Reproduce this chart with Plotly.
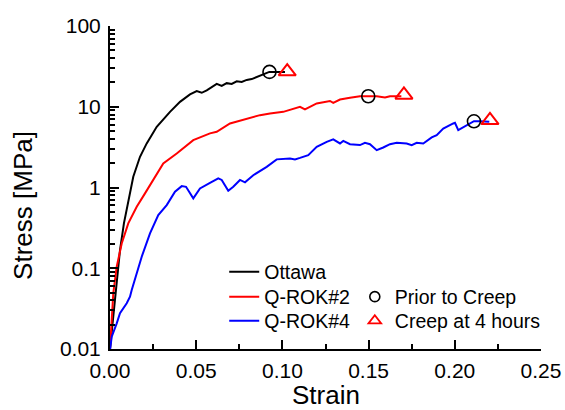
import plotly.graph_objects as go

# ---------------- data ----------------
ottawa_strain = [0.0, 0.0019, 0.0039, 0.0058, 0.0081, 0.0106, 0.0135, 0.0174, 0.0213,
                 0.0271, 0.0348, 0.0406, 0.0464, 0.0503, 0.0532, 0.0561, 0.0590, 0.0619,
                 0.0648, 0.0677, 0.0706, 0.0735, 0.0764, 0.0793, 0.0822, 0.0851, 0.0880,
                 0.0924, 0.0967, 0.1015]
ottawa_stress = [0.01, 0.025, 0.0785, 0.168, 0.362, 0.70, 1.36, 2.40, 3.52,
                 5.64, 8.65, 11.5, 14.2, 15.6, 14.9, 16.0, 17.6, 19.2,
                 18.1, 19.6, 19.2, 20.7, 20.3, 21.5, 22.0, 23.3, 24.6,
                 27.0, 27.0, 27.0]

qrok2_strain = [0.0, 0.0005, 0.0019, 0.0039, 0.0068, 0.0106, 0.0155, 0.0203, 0.0261,
                0.0309, 0.0387, 0.0483, 0.0580, 0.0619, 0.0696, 0.0793, 0.0870, 0.0928,
                0.1005, 0.1102, 0.1131, 0.1199, 0.1276, 0.1295, 0.1334, 0.1392, 0.1450,
                0.1498, 0.1547, 0.1595, 0.1624, 0.1690]
qrok2_stress = [0.01, 0.0142, 0.0489, 0.1045, 0.203, 0.360, 0.577, 0.846, 1.36,
                1.99, 2.64, 3.86, 4.68, 4.89, 6.21, 7.16, 7.87, 8.26,
                8.65, 9.97, 9.26, 11.0, 11.8, 11.2, 12.3, 12.9, 13.5,
                13.5, 13.5, 13.0, 13.5, 13.5]

qrok4_strain = [0.0, 0.0010, 0.0039, 0.0058, 0.0097, 0.0116, 0.0126, 0.0155, 0.0184,
                0.0232, 0.0280, 0.0329, 0.0377, 0.0416, 0.0441, 0.0483, 0.0522, 0.0580,
                0.0628, 0.0648, 0.0686, 0.0715, 0.0754, 0.0783, 0.0831, 0.0909, 0.0967,
                0.1044, 0.1073, 0.1102, 0.1150, 0.1199, 0.1257, 0.1295, 0.1334, 0.1353,
                0.1392, 0.1450, 0.1479, 0.1508, 0.1547, 0.1585, 0.1624, 0.1663, 0.1721,
                0.1750, 0.1779, 0.1817, 0.1866, 0.1895, 0.1933, 0.1991, 0.2001, 0.2020,
                0.2069, 0.2111, 0.2146, 0.2200]
qrok4_stress = [0.0097, 0.0142, 0.0208, 0.0277, 0.0368, 0.0444, 0.0537, 0.0865, 0.139,
                0.270, 0.455, 0.605, 0.885, 1.04, 1.02, 0.733, 0.975, 1.14,
                1.30, 1.24, 0.91, 1.02, 1.24, 1.16, 1.42, 1.80, 2.23,
                2.29, 2.23, 2.33, 2.52, 3.19, 3.68, 3.94, 3.51, 3.78,
                3.44, 3.35, 3.57, 3.44, 2.90, 3.13, 3.44, 3.57, 3.51,
                3.35, 3.57, 3.51, 4.17, 4.45, 5.38, 6.21, 6.32, 5.13,
                5.92, 6.63, 6.63, 6.50]

prior_strain = [0.0925, 0.1498, 0.2111]
prior_stress = [27.0, 13.5, 6.6]
creep_strain = [0.1028, 0.1705, 0.2204]
creep_stress = [27.3, 14.0, 6.8]

series_names = ["Ottawa", "Q-ROK#2", "Q-ROK#4"]
series_colors = ["#000000", "#ff0000", "#0000ff"]

x_tickvals = [0.0, 0.05, 0.10, 0.15, 0.20, 0.25]
x_ticktext = ["0.00", "0.05", "0.10", "0.15", "0.20", "0.25"]
y_tickvals = [0.01, 0.1, 1, 10, 100]
y_ticktext = ["0.01", "0.1", "1", "10", "100"]

FONT = "Liberation Sans, Arial, sans-serif"
LEG_FONT = dict(family=FONT, size=19.5, color="#000000")

fig = go.Figure()

curves = [(ottawa_strain, ottawa_stress), (qrok2_strain, qrok2_stress), (qrok4_strain, qrok4_stress)]
line_legends = ["legend", "legend2", "legend3"]
for (xs, ys), name, color, lg in zip(curves, series_names, series_colors, line_legends):
    fig.add_trace(go.Scatter(x=xs, y=ys, mode="lines", name=name,
                             line=dict(color=color, width=2), legend=lg))

fig.add_trace(go.Scatter(x=prior_strain, y=prior_stress, mode="markers", showlegend=False,
                         marker=dict(symbol="circle-open", size=13, color="#000000",
                                     line=dict(width=1.6, color="#000000"))))
fig.add_trace(go.Scatter(x=creep_strain, y=creep_stress, mode="markers", showlegend=False,
                         marker=dict(symbol="triangle-up-open", size=15, color="#ff0000",
                                     line=dict(width=2, color="#ff0000"))))

# legend-only entries (smaller symbols as in the reference legend)
fig.add_trace(go.Scatter(x=[None], y=[None], mode="markers", name="Prior to Creep", legend="legend4",
                         marker=dict(symbol="circle-open", size=10, color="#000000",
                                     line=dict(width=1.6, color="#000000"))))
fig.add_trace(go.Scatter(x=[None], y=[None], mode="markers", name="Creep at 4 hours", legend="legend5",
                         marker=dict(symbol="triangle-up-open", size=11, color="#ff0000",
                                     line=dict(width=1.8, color="#ff0000"))))

axis_common = dict(showgrid=False, zeroline=False, showline=True, linecolor="#000000",
                   linewidth=2, ticks="inside", ticklen=9, tickwidth=2, tickcolor="#000000",
                   automargin=False,
                   tickfont=dict(family=FONT, size=21, color="#000000"))


def leg(x, y):
    return dict(x=x, y=y, xanchor="left", yanchor="middle", bgcolor="rgba(0,0,0,0)",
                font=LEG_FONT, tracegroupgap=0)


fig.update_layout(
    width=565, height=410,
    margin=dict(l=110, r=24, t=26, b=61),
    paper_bgcolor="white", plot_bgcolor="white",
    font=dict(family=FONT, color="#000000"),
    xaxis=dict(range=[0, 0.25], tickmode="array", tickvals=x_tickvals, ticktext=x_ticktext,
               ticklabelstandoff=2,
               minor=dict(tickmode="linear", ticks="inside", ticklen=5, tickwidth=2,
                          tickcolor="#000000", dtick=0.025, tick0=0, showgrid=False),
               **axis_common),
    yaxis=dict(type="log", range=[-2, 2], tickmode="array", tickvals=y_tickvals, ticktext=y_ticktext,
               ticklabelstandoff=3,
               minor=dict(tickmode="linear", ticks="inside", ticklen=5, tickwidth=1.5,
                          tickcolor="#000000", dtick="D1", showgrid=False),
               **axis_common),
    legend=leg(0.265, 0.2384),
    legend2=leg(0.265, 0.161),
    legend3=leg(0.265, 0.0867),
    legend4=leg(0.568, 0.161),
    legend5=leg(0.568, 0.0867),
    annotations=[
        dict(text="Stress [MPa]", textangle=-90, xref="paper", yref="paper",
             x=-0.202, y=0.446, xanchor="center", yanchor="middle", showarrow=False,
             font=dict(family=FONT, size=26, color="#000000")),
        dict(text="Strain", xref="paper", yref="paper",
             x=0.5, y=-0.142, xanchor="center", yanchor="middle", showarrow=False,
             font=dict(family=FONT, size=26, color="#000000")),
    ],
)

fig.write_html("out.html")
